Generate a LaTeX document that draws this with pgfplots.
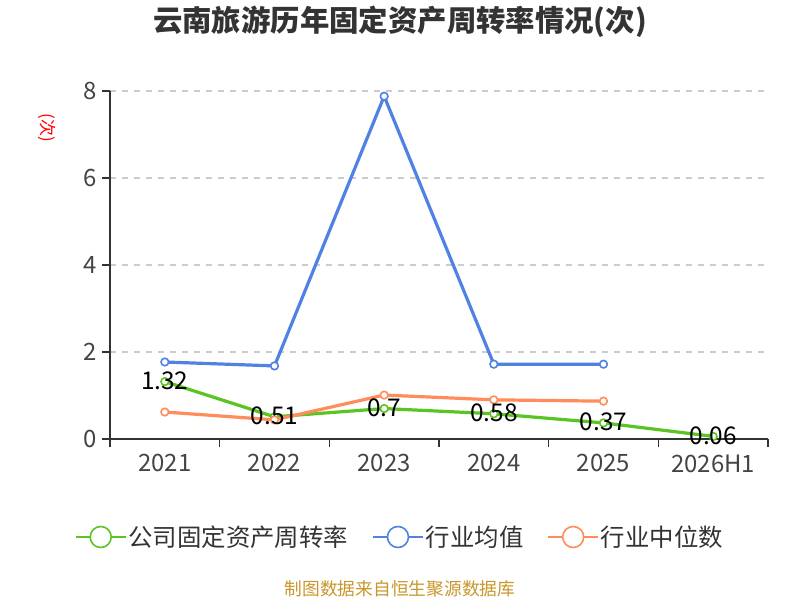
\documentclass[border=0pt]{standalone}
\usepackage{fontspec}
\setmainfont{Noto Sans CJK SC}
\usepackage{pgfplots}
\pgfplotsset{compat=1.18}

\definecolor{cgreen}{HTML}{5AC422}
\definecolor{cblue}{HTML}{4F82E3}
\definecolor{corange}{HTML}{FF8C5A}
\definecolor{ctext}{HTML}{333333}
\definecolor{ctick}{HTML}{444444}
\definecolor{cgrid}{HTML}{CCCCCC}
\definecolor{cfoot}{HTML}{C9962B}

\newcommand{\fs}[1]{\fontsize{#1}{#1}\selectfont}

\begin{document}
\begin{tikzpicture}
\useasboundingbox (0,0) rectangle (800bp,600bp);
\node[font=\fs{29.5}\bfseries, text=ctext] at (400bp,578bp) {云南旅游历年固定资产周转率情况(次)};
\node[rotate=-90, text=red, font=\fs{17}] at (47bp,472bp) {(次)};
\node[text=cfoot, font=\fs{17.8}] at (400bp,11bp) {制图数据来自恒生聚源数据库};

\begin{axis}[
    at={(110bp,161bp)}, anchor=south west,
    width=658bp, height=348bp, scale only axis,
    xmin=-0.5, xmax=5.5, ymin=0, ymax=8,
    axis x line*=bottom, axis y line*=left,
    axis line style={draw=ctext, line width=1.6bp},
    tick align=outside, major tick length=8bp,
    tick style={draw=ctext, line width=1.6bp},
    xtick={-0.5,0.5,1.5,2.5,3.5,4.5,5.5},
    xticklabels={},
    extra x ticks={0,1,2,3,4,5},
    extra x tick labels={2021,2022,2023,2024,2025,2026H1},
    extra x tick style={major tick length=0pt, grid=none},
    ytick={0,2,4,6,8},
    ymajorgrids, grid style={draw=cgrid, dashed, line width=1.2bp, dash pattern=on 6bp off 6bp},
    /pgf/number format/assume math mode=true,
    tick label style={font=\fs{24}, text=ctick},
    xticklabel style={yshift=-12bp},
    yticklabel style={xshift=-2bp},
    clip=false,
    legend style={at={(0.4407,-0.2816)}, anchor=center, draw=none, fill=none,
        font=\fs{24.5}, text=ctext, legend columns=3,
        /tikz/every even column/.append style={column sep=22bp},
        inner sep=0pt},
    legend image code/.code={
        \draw[#1, mark=none, line width=1.6bp] (0bp,0bp) -- (50bp,0bp);
        \draw[#1, mark=none, fill=white, line width=1.6bp] (25bp,0bp) circle (10.5bp);
    },
]
\addplot[color=cgreen, line width=3.2bp, mark=*, mark size=3.8bp,
    mark options={fill=white, line width=1.6bp}] coordinates {
    (0,1.32) (1,0.51) (2,0.70) (3,0.58) (4,0.37) (5,0.06)
};
\addlegendentry{公司固定资产周转率}
\addplot[color=cblue, line width=3.2bp, mark=*, mark size=3.8bp,
    mark options={fill=white, line width=1.6bp}] coordinates {
    (0,1.77) (1,1.68) (2,7.88) (3,1.72) (4,1.72)
};
\addlegendentry{行业均值}
\addplot[color=corange, line width=3.2bp, mark=*, mark size=3.8bp,
    mark options={fill=white, line width=1.6bp}] coordinates {
    (0,0.62) (1,0.44) (2,1.01) (3,0.90) (4,0.87)
};
\addlegendentry{行业中位数}
\addplot[draw=none, mark=none, forget plot,
    nodes near coords, point meta=explicit symbolic,
    nodes near coords style={anchor=center, yshift=1bp, font=\fs{24.5}, text=black}]
    coordinates {
    (0,1.32) [1.32] (1,0.51) [0.51] (2,0.70) [0.7] (3,0.58) [0.58] (4,0.37) [0.37] (5,0.06) [0.06]
};
\end{axis}
\end{tikzpicture}
\end{document}
